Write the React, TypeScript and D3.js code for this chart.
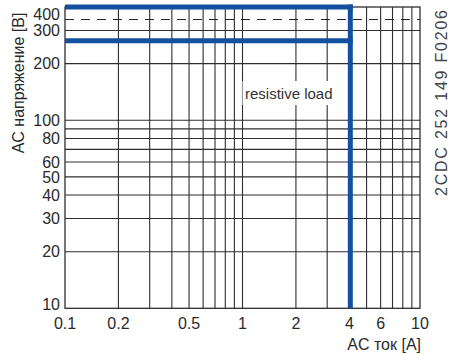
import React from "react";
import * as d3 from "d3";

const xTickValues = [0.1, 0.2, 0.5, 1, 2, 4, 6, 10];
const xTickLabels = ["0.1", "0.2", "0.5", "1", "2", "4", "6", "10"];
const xGridValues = [0.2, 0.3, 0.4, 0.5, 0.6, 0.7, 0.8, 0.9, 1, 2, 3, 4, 5, 6, 7, 8, 9];
const yTickValues = [10, 20, 30, 40, 50, 60, 80, 100, 200, 300, 400];
const yTickLabels = ["10", "20", "30", "40", "50", "60", "80", "100", "200", "300", "400"];
const yGridValues = [20, 30, 40, 50, 60, 70, 80, 90, 100, 200, 300];
const voltageLimits = [400, 265];
const currentLimit = 4.05;
const dashedVoltage = 343;

const W = 451;
const H = 355;
const FONT = "'Liberation Sans', Arial, sans-serif";

export default function App() {
  const x = d3.scaleLog().domain([0.1, 10]).range([65, 420]);
  const y = d3.scaleLog().domain([10, 400]).range([308.3, 7]);
  const [x0, x1] = x.range();
  const [y0, y1] = y.range();
  const blue = "#1450a0";
  const grid = "#2e2e2e";
  const txt = "#2a2a2a";

  return (
    <svg
      width={W}
      height={H}
      style={{ position: "absolute", left: 0, top: 0, background: "#fff" }}
      fontFamily={FONT}
    >
      <rect x={0} y={0} width={W} height={H} fill="#fff" />
      {xGridValues.map((v) => (
        <line key={"vx" + v} x1={x(v)} x2={x(v)} y1={y1} y2={y0} stroke={grid} strokeWidth={1.1} />
      ))}
      {yGridValues.map((v) => (
        <line key={"hy" + v} x1={x0} x2={x1} y1={y(v)} y2={y(v)} stroke={grid} strokeWidth={1.1} />
      ))}
      <rect x={x0} y={y1} width={x1 - x0} height={y0 - y1} fill="none" stroke={grid} strokeWidth={1.3} />
      <line
        x1={x0}
        x2={x1}
        y1={y(dashedVoltage)}
        y2={y(dashedVoltage)}
        stroke="#222"
        strokeWidth={1.1}
        strokeDasharray="9,7"
      />
      <rect x={242.5} y={81} width={92} height={24} fill="#fff" />
      <text x={245} y={99} fontSize={15} fill="#333">
        resistive load
      </text>
      {voltageLimits.map((v) => (
        <line
          key={"bl" + v}
          x1={x0}
          x2={x(currentLimit) + 2.5}
          y1={y(v)}
          y2={y(v)}
          stroke={blue}
          strokeWidth={5}
        />
      ))}
      <line
        x1={x(currentLimit)}
        x2={x(currentLimit)}
        y1={y(voltageLimits[0]) - 2.5}
        y2={y0}
        stroke={blue}
        strokeWidth={5}
      />
      {yTickValues.map((v, i) => (
        <text
          key={"yl" + v}
          x={60}
          y={Math.min(Math.max(y(v), 14), 304)}
          dy="0.36em"
          textAnchor="end"
          fontSize={16}
          fill={txt}
        >
          {yTickLabels[i]}
        </text>
      ))}
      {xTickValues.map((v, i) => (
        <text key={"xl" + v} x={x(v)} y={329} textAnchor="middle" fontSize={16} fill={txt}>
          {xTickLabels[i]}
        </text>
      ))}
      <text x={421} y={350} textAnchor="end" fontSize={16} fill={txt}>
        AC ток [A]
      </text>
      <text
        transform="translate(24,83) rotate(-90)"
        textAnchor="middle"
        fontSize={16}
        fill={txt}
      >
        AC напряжение [B]
      </text>
      <text
        transform="translate(447,103) rotate(-90)"
        textAnchor="middle"
        fontSize={16}
        fill="#444"
        textLength={186}
        lengthAdjust="spacing"
      >
        2CDC 252 149 F0206
      </text>
    </svg>
  );
}
